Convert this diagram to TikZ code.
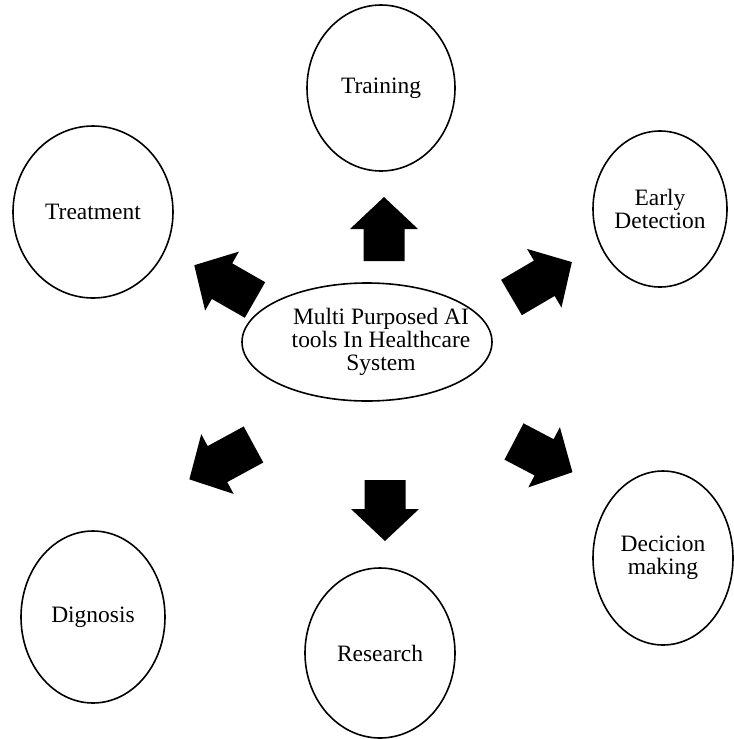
\documentclass[tikz,border=0pt]{standalone}
\usepackage{fontspec}
\setmainfont{Liberation Serif}
\usetikzlibrary{shapes.geometric}
\newcommand\blockarr[4]{%
\begin{scope}[shift={(#1,#2)},rotate=#3]
\fill (0,20.5) -- ({#4-32},20.5) -- ({#4-32},34) -- (#4,0) -- ({#4-32},-34) -- ({#4-32},-20.5) -- (0,-20.5) -- cycle;
\end{scope}}
\begin{document}
\begin{tikzpicture}[x=0.75pt,y=-0.75pt,
  bubble/.style={draw,line width=1.2pt,ellipse,inner sep=0pt,align=center,
    font=\fontsize{17.6}{17}\selectfont},
  label text/.style={inner sep=0pt,align=center,font=\fontsize{17.6}{17}\selectfont}]
\useasboundingbox (0,0) rectangle (733,739);
\node[bubble,minimum width=250*0.75pt,minimum height=118*0.75pt] (hub) at (367,342) {};
\node[label text] (hubtext) at ([xshift=14*0.75pt]hub.center) {Multi Purposed AI\\tools In Healthcare\\System};
\node[bubble,minimum width=148*0.75pt,minimum height=166*0.75pt] (train) at (381,88) {Training};
\node[bubble,minimum width=160*0.75pt,minimum height=172*0.75pt] (treat) at (93,212) {Treatment};
\node[bubble,minimum width=134*0.75pt,minimum height=156*0.75pt] (early) at (660,209) {Early\\Detection};
\node[bubble,minimum width=140*0.75pt,minimum height=174*0.75pt] (decide) at (663,558) {Decicion\\making};
\node[bubble,minimum width=150*0.75pt,minimum height=170*0.75pt] (research) at (380,653) {Research};
\node[bubble,minimum width=144*0.75pt,minimum height=172*0.75pt] (diag) at (93,617) {Dignosis};
\blockarr{384}{261}{90}{64}
\blockarr{385}{480}{-90}{61}
\blockarr{255}{300}{150.2}{70}
\blockarr{511.5}{297.5}{30.4}{70}
\blockarr{253.5}{444.5}{208.5}{73}
\blockarr{514}{441.5}{-27.7}{66}
\end{tikzpicture}
\end{document}
